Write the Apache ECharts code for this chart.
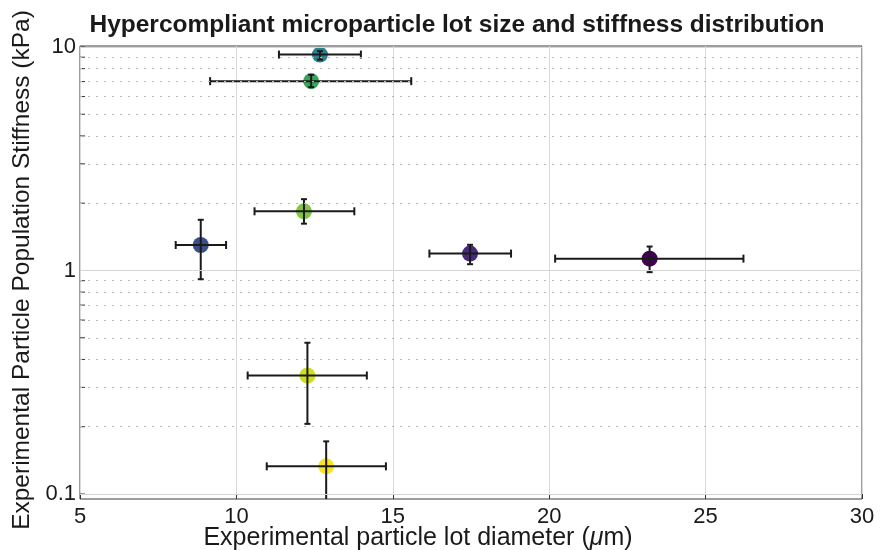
<!DOCTYPE html>
<html>
<head>
<meta charset="utf-8">
<script src="https://cdn.jsdelivr.net/npm/echarts@6/dist/echarts.min.js"></script>
<style>
  html, body { margin: 0; padding: 0; background: #fff; }
  #chart { width: 880px; height: 550px; }
</style>
</head>
<body>
<div id="chart"></div>
<script>
// Particle lots: mean diameter (µm) and stiffness (kPa), with error extents
const diameter      = [12.67, 12.39, 12.16, 8.86, 17.47, 23.21, 12.27, 12.87];
const diameterLow   = [11.36,  9.16, 10.58, 8.06, 16.17, 20.19, 10.36, 10.97];
const diameterHigh  = [13.98, 15.59, 13.77, 9.67, 18.78, 26.21, 14.17, 14.78];
const stiffness     = [9.25, 7.03, 1.84, 1.30, 1.19, 1.13, 0.339, 0.133];
const stiffnessLow  = [8.77, 6.61, 1.62, 0.914, 1.067, 0.983, 0.206, 0.085];
const stiffnessHigh = [9.58, 7.51, 2.085, 1.686, 1.303, 1.28, 0.475, 0.172];

// Axis ticks
const xTicks = [5, 10, 15, 20, 25, 30];
const yMajorTicks = [0.1, 1, 10];
const yMinorTicks = [0.2, 0.3, 0.4, 0.5, 0.6, 0.7, 0.8, 0.9, 2, 3, 4, 5, 6, 7, 8, 9];

const lotColors = ['#2c808e', '#38a65a', '#82c443', '#3b5089', '#472b7a', '#440154', '#cfdf1f', '#f7e424'];

const FONT = '"Liberation Sans", Arial, Helvetica, sans-serif';
const INK = '#1a1a1a';

const pointData = diameter.map((d, i) => ({
  value: [d, stiffness[i]],
  itemStyle: { color: lotColors[i], opacity: 1 }
}));
const errorData = diameter.map((d, i) => [d, stiffness[i], diameterLow[i], diameterHigh[i], stiffnessLow[i], stiffnessHigh[i]]);

function seg(x1, y1, x2, y2) {
  return { type: 'line', shape: { x1, y1, x2, y2 }, style: { stroke: INK, lineWidth: 2 } };
}

function renderError(params, api) {
  const x = api.value(0), y = api.value(1);
  const l = api.coord([api.value(2), y]);
  const r = api.coord([api.value(3), y]);
  const b = api.coord([x, api.value(4)]);
  const t = api.coord([x, api.value(5)]);
  const hc = 4, vc = 3;
  return {
    type: 'group',
    children: [
      seg(l[0], l[1], r[0], r[1]),
      seg(l[0], l[1] - hc, l[0], l[1] + hc),
      seg(r[0], r[1] - hc, r[0], r[1] + hc),
      seg(t[0], t[1], b[0], b[1]),
      seg(t[0] - vc, t[1], t[0] + vc, t[1]),
      seg(b[0] - vc, b[1], b[0] + vc, b[1])
    ]
  };
}

function renderYTick(params, api) {
  const p = api.coord([xTicks[0], api.value(0)]);
  return { type: 'line', shape: { x1: p[0], y1: p[1], x2: p[0] + 5, y2: p[1] }, style: { stroke: '#333', lineWidth: 1 } };
}

const chart = echarts.init(document.getElementById('chart'), null, { renderer: 'canvas' });

chart.setOption({
  animation: false,
  backgroundColor: '#fff',
  title: {
    text: 'Hypercompliant microparticle lot size and stiffness distribution',
    left: 452, top: 8, textAlign: 'center',
    textStyle: { fontFamily: FONT, fontWeight: 'bold', fontSize: 24.5, color: INK }
  },
  grid: {
    left: 80, right: 18, top: 46, bottom: 51,
    show: true, borderColor: '#3c3c3c', borderWidth: 1, backgroundColor: 'transparent'
  },
  xAxis: {
    type: 'value', min: xTicks[0], max: xTicks[xTicks.length - 1], interval: 5,
    axisLine: { show: false },
    axisTick: { show: true, inside: true, length: 5, lineStyle: { color: '#333' } },
    axisLabel: { fontFamily: FONT, fontSize: 22, color: INK, margin: 7 },
    splitLine: { show: true, lineStyle: { color: '#d9d9d9', width: 1 } }
  },
  yAxis: {
    type: 'log', logBase: 10, min: 0.095, max: 10.1,
    axisLine: { show: false },
    axisTick: { show: false },
    splitLine: { show: false },
    axisLabel: {
      fontFamily: FONT, fontSize: 22, color: INK, margin: 4,
      formatter: v => {
        const hit = yMajorTicks.find(t => Math.abs(t - v) / t < 1e-6);
        return hit !== undefined ? String(hit) : '';
      }
    }
  },
  graphic: [
    {
      type: 'text', x: 418, y: 538,
      style: {
        x: 0, y: 0, align: 'center', verticalAlign: 'middle',
        text: '{a|Experimental particle lot diameter (}{i|μ}{a|m)}',
        rich: {
          a: { fontFamily: FONT, fontSize: 25, fill: INK },
          i: { fontFamily: FONT, fontSize: 25, fontStyle: 'italic', fill: INK }
        }
      }
    },
    {
      type: 'text', x: 22, y: 270, rotation: Math.PI / 2,
      style: {
        x: 0, y: 0, align: 'center', verticalAlign: 'middle',
        text: 'Experimental Particle Population Stiffness (kPa)',
        fontFamily: FONT, fontSize: 24.5, fill: INK
      }
    }
  ],
  series: [
    {
      name: 'grid lines', type: 'line', data: [], silent: true, z: 1,
      markLine: {
        silent: true, symbol: 'none', animation: false,
        label: { show: false },
        data: [
          ...yMajorTicks.map(v => ({ yAxis: v, lineStyle: { color: '#d6d6d6', width: 1, type: 'solid' } })),
          ...yMinorTicks.map(v => ({ yAxis: v, lineStyle: { color: '#b8b8b8', width: 1, type: [2, 6] } }))
        ]
      }
    },
    {
      name: 'y ticks', type: 'custom', silent: true, z: 2,
      data: [...yMajorTicks, ...yMinorTicks].map(v => [v]),
      encode: { y: 0 },
      renderItem: renderYTick
    },
    {
      name: 'lots', type: 'scatter', symbol: 'circle', symbolSize: 16, z: 3,
      data: pointData
    },
    {
      name: 'error', type: 'custom', clip: true, z: 4,
      data: errorData,
      encode: { x: [0, 2, 3], y: [1, 4, 5] },
      renderItem: renderError
    }
  ]
});
</script>
</body>
</html>
